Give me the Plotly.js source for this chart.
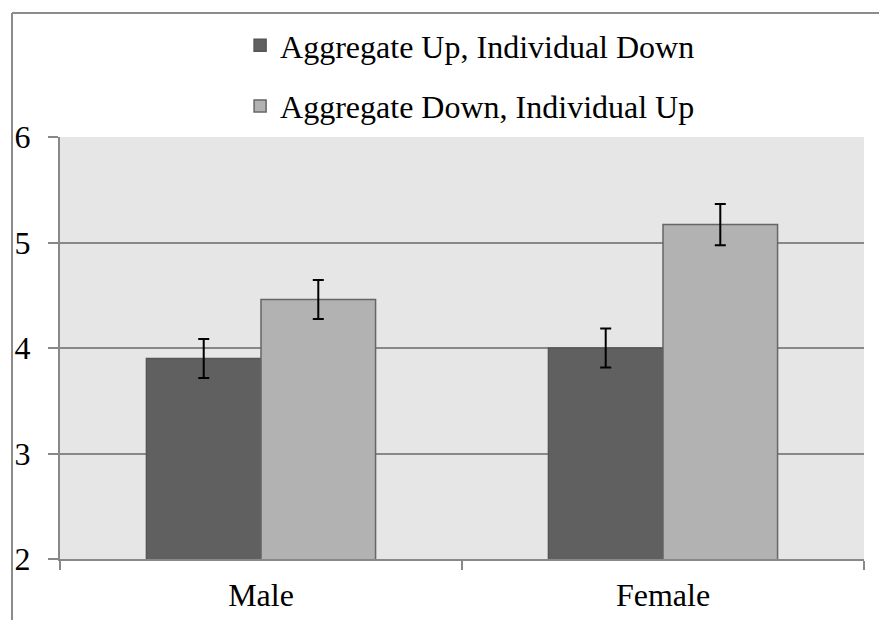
<!DOCTYPE html>
<html>
<head>
<meta charset="utf-8">
<script src="https://cdn.plot.ly/plotly-3.0.1.min.js"></script>
<style>
html,body{margin:0;padding:0;background:#fff;}
#chart{width:879px;height:620px;}
</style>
</head>
<body>
<div id="chart"></div>
<script>
var categories = ["Male", "Female"];
var seriesNames = ["Aggregate Up, Individual Down", "Aggregate Down, Individual Up"];
var upDownValues = [3.90, 4.00];
var upDownErrors = [0.185, 0.185];
var downUpValues = [4.46, 5.17];
var downUpErrors = [0.185, 0.195];
var yTickValues = [2, 3, 4, 5, 6];

var fontFam = "Liberation Serif";
var fs = 32;

var traces = [
  {
    type: "bar", name: seriesNames[0], x: categories, y: upDownValues,
    legendgroup: "a",
    marker: {color: "#606060", line: {color: "#555555", width: 1.5}},
    error_y: {type: "data", array: upDownErrors, visible: true, color: "#000", thickness: 2, width: 5.5}
  },
  {
    type: "bar", name: seriesNames[1], x: categories, y: downUpValues,
    legendgroup: "b",
    marker: {color: "#b2b2b2", line: {color: "#666666", width: 1.5}},
    error_y: {type: "data", array: downUpErrors, visible: true, color: "#000", thickness: 2, width: 5.5}
  }
];

var layout = {
  width: 879, height: 620,
  margin: {l: 60, r: 15, t: 137, b: 61, pad: 0},
  paper_bgcolor: "#ffffff",
  plot_bgcolor: "#e6e6e6",
  font: {family: fontFam, color: "#000", size: fs},
  barmode: "group",
  bargap: 0.43,
  bargroupgap: 0,
  showlegend: true,
  legend: {
    orientation: "v", x: 0.224, xanchor: "left", y: 1.282, yanchor: "top",
    font: {family: fontFam, size: fs, color: "#000"},
    tracegroupgap: 16, bgcolor: "rgba(0,0,0,0)", traceorder: "grouped"
  },
  xaxis: {
    type: "category",
    showline: true, linecolor: "#888", linewidth: 2,
    ticks: "outside", tickson: "boundaries", ticklen: 9, tickcolor: "#888", tickwidth: 2,
    tickfont: {family: fontFam, size: fs, color: "#000"},
    ticklabelstandoff: 7,
    showgrid: false, zeroline: false, fixedrange: true
  },
  yaxis: {
    range: [2, 6], tickvals: yTickValues, ticktext: yTickValues.map(String),
    showline: true, linecolor: "#888", linewidth: 2,
    showgrid: true, gridcolor: "#888", gridwidth: 2,
    ticks: "outside", ticklen: 10, tickcolor: "#888", tickwidth: 2,
    tickfont: {family: fontFam, size: fs, color: "#000"},
    ticklabelstandoff: 11,
    zeroline: false, fixedrange: true
  },
  shapes: [
    {type: "line", xref: "paper", yref: "paper", x0: -0.0597, x1: 1.05, y0: 1.2938, y1: 1.2938,
     line: {color: "#8c8c8c", width: 2}},
    {type: "line", xref: "paper", yref: "paper", x0: -0.0597, x1: -0.0597, y0: 1.2938, y1: -0.2,
     line: {color: "#8c8c8c", width: 2}}
  ]
};

Plotly.newPlot("chart", traces, layout, {displayModeBar: false, staticPlot: true});
</script>
</body>
</html>
